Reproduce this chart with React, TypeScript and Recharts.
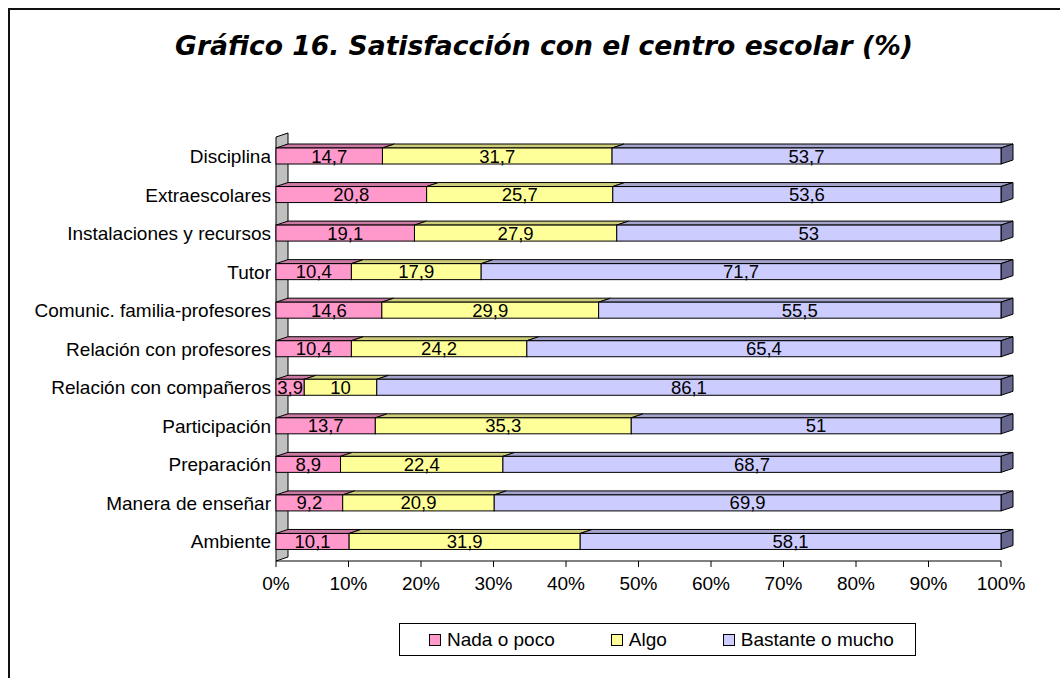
import React from 'react';
import { BarChart, Bar, XAxis, YAxis, LabelList, Legend, ReferenceArea } from 'recharts';

const categories = [
  'Disciplina',
  'Extraescolares',
  'Instalaciones y recursos',
  'Tutor',
  'Comunic. familia-profesores',
  'Relación con profesores',
  'Relación con compañeros',
  'Participación',
  'Preparación',
  'Manera de enseñar',
  'Ambiente',
];
const nadaValues = [14.7, 20.8, 19.1, 10.4, 14.6, 10.4, 3.9, 13.7, 8.9, 9.2, 10.1];
const algoValues = [31.7, 25.7, 27.9, 17.9, 29.9, 24.2, 10, 35.3, 22.4, 20.9, 31.9];
const bastanteValues = [53.7, 53.6, 53, 71.7, 55.5, 65.4, 86.1, 51, 68.7, 69.9, 58.1];
const seriesNames = ['Nada o poco', 'Algo', 'Bastante o mucho'];
const xTicks = [0, 0.1, 0.2, 0.3, 0.4, 0.5, 0.6, 0.7, 0.8, 0.9, 1];
const titleText = 'Gráfico 16. Satisfacción con el centro escolar (%)';

const data = categories.map((name, i) => ({
  name,
  nada: nadaValues[i],
  algo: algoValues[i],
  bastante: bastanteValues[i],
}));

const colors = ['#FF99CC', '#FFFF99', '#CCCCFF'];
const topColors = ['#CC7AA3', '#CCCC7A', '#A3A3CC'];
const sideColor = '#66668F';
const DX = 12;
const DY = 4;
const FONT = "'Liberation Sans', Arial, sans-serif";

const make3D = (front: string, top: string, side: string | null) => (props: any) => {
  const { x, y, width, height } = props;
  if (x == null || y == null || !width) return <g />;
  const topPts = `${x},${y} ${x + DX},${y - DY} ${x + width + DX},${y - DY} ${x + width},${y}`;
  const sidePts = `${x + width},${y} ${x + width + DX},${y - DY} ${x + width + DX},${y + height - DY} ${x + width},${y + height}`;
  return (
    <g>
      <polygon points={topPts} fill={top} stroke="#000" strokeWidth={1} />
      {side && <polygon points={sidePts} fill={side} stroke="#000" strokeWidth={1} />}
      <rect x={x} y={y} width={width} height={height} fill={front} stroke="#000" strokeWidth={1} />
    </g>
  );
};

const WallShape = (props: any) => {
  const { x, y, height } = props;
  if (x == null) return <g />;
  const pts = `${x},${y + height} ${x},${y} ${x + DX},${y - DY} ${x + DX},${y + height - DY}`;
  return <polygon points={pts} fill="#C0C0C0" stroke="#000" strokeWidth={1} />;
};

const fmt = (v: any) => String(v).replace('.', ',');

const LegendBox = () => (
  <div
    style={{
      boxSizing: 'border-box',
      width: 517,
      height: 33,
      border: '1px solid #000',
      background: '#fff',
      display: 'flex',
      alignItems: 'center',
      paddingLeft: 29,
      fontFamily: FONT,
      fontSize: 19,
      color: '#000',
      whiteSpace: 'nowrap',
    }}
  >
    {seriesNames.map((n, i) => (
      <div key={n} style={{ display: 'flex', alignItems: 'center', marginRight: 56, flexShrink: 0, whiteSpace: 'nowrap' }}>
        <span
          style={{
            display: 'inline-block',
            boxSizing: 'border-box',
            width: 12,
            height: 12,
            border: '1px solid #000',
            background: colors[i],
            marginRight: 6,
            flexShrink: 0,
          }}
        />
        <span style={{ lineHeight: '20px', whiteSpace: 'nowrap' }}>{n}</span>
      </div>
    ))}
  </div>
);

export default function App() {
  return (
    <div style={{ position: 'absolute', left: 0, top: 0, width: 1060, height: 678, overflow: 'hidden', background: '#fff' }}>
      <div
        style={{
          position: 'absolute',
          left: 8,
          top: 8,
          width: 1100,
          height: 720,
          borderTop: '2px solid #111',
          borderLeft: '2px solid #111',
        }}
      />
      <div
        style={{
          position: 'absolute',
          left: 0,
          top: 32,
          width: 1088,
          textAlign: 'center',
          fontFamily: "'DejaVu Sans', Verdana, sans-serif",
          fontWeight: 'bold',
          fontStyle: 'italic',
          fontSize: 26.6,
          lineHeight: '27px',
          color: '#000',
          whiteSpace: 'nowrap',
        }}
      >
        {titleText}
      </div>
      <div style={{ position: 'absolute', left: 0, top: 0 }}>
        <BarChart
          width={1060}
          height={678}
          data={data}
          layout="vertical"
          stackOffset="expand"
          margin={{ top: 137, right: 59, bottom: 87, left: 0 }}
          barSize={16}
          style={{ fontFamily: FONT }}
        >
          <XAxis
            type="number"
            domain={[0, 1]}
            ticks={xTicks}
            tickFormatter={(v: number) => `${Math.round(v * 100)}%`}
            axisLine={{ stroke: '#000' }}
            tickLine={{ stroke: '#000' }}
            tickSize={6}
            tickMargin={10}
            height={30}
            tick={{ fill: '#000', fontSize: 19, fontFamily: FONT }}
            interval={0}
          />
          <YAxis
            type="category"
            dataKey="name"
            width={276}
            axisLine={false}
            tickLine={false}
            tickSize={3}
            tickMargin={2}
            interval={0}
            tick={{ fill: '#000', fontSize: 19, fontFamily: FONT }}
          />
          <ReferenceArea x1={0} x2={1} ifOverflow="visible" shape={WallShape} />
          <Bar dataKey="nada" name={seriesNames[0]} stackId="s" isAnimationActive={false} shape={make3D(colors[0], topColors[0], null)}>
            <LabelList dataKey="nada" position="center" formatter={fmt} fill="#000" stroke="none" fontSize={18.5} fontFamily={FONT} />
          </Bar>
          <Bar dataKey="algo" name={seriesNames[1]} stackId="s" isAnimationActive={false} shape={make3D(colors[1], topColors[1], null)}>
            <LabelList dataKey="algo" position="center" formatter={fmt} fill="#000" stroke="none" fontSize={18.5} fontFamily={FONT} />
          </Bar>
          <Bar dataKey="bastante" name={seriesNames[2]} stackId="s" isAnimationActive={false} shape={make3D(colors[2], topColors[2], sideColor)}>
            <LabelList dataKey="bastante" position="center" formatter={fmt} fill="#000" stroke="none" fontSize={18.5} fontFamily={FONT} />
          </Bar>
          <Legend
            layout="horizontal"
            verticalAlign="middle"
            align="center"
            content={() => <LegendBox />}
            wrapperStyle={{ position: 'absolute', left: 399, top: 623, width: 517, height: 33 }}
          />
        </BarChart>
      </div>
    </div>
  );
}
